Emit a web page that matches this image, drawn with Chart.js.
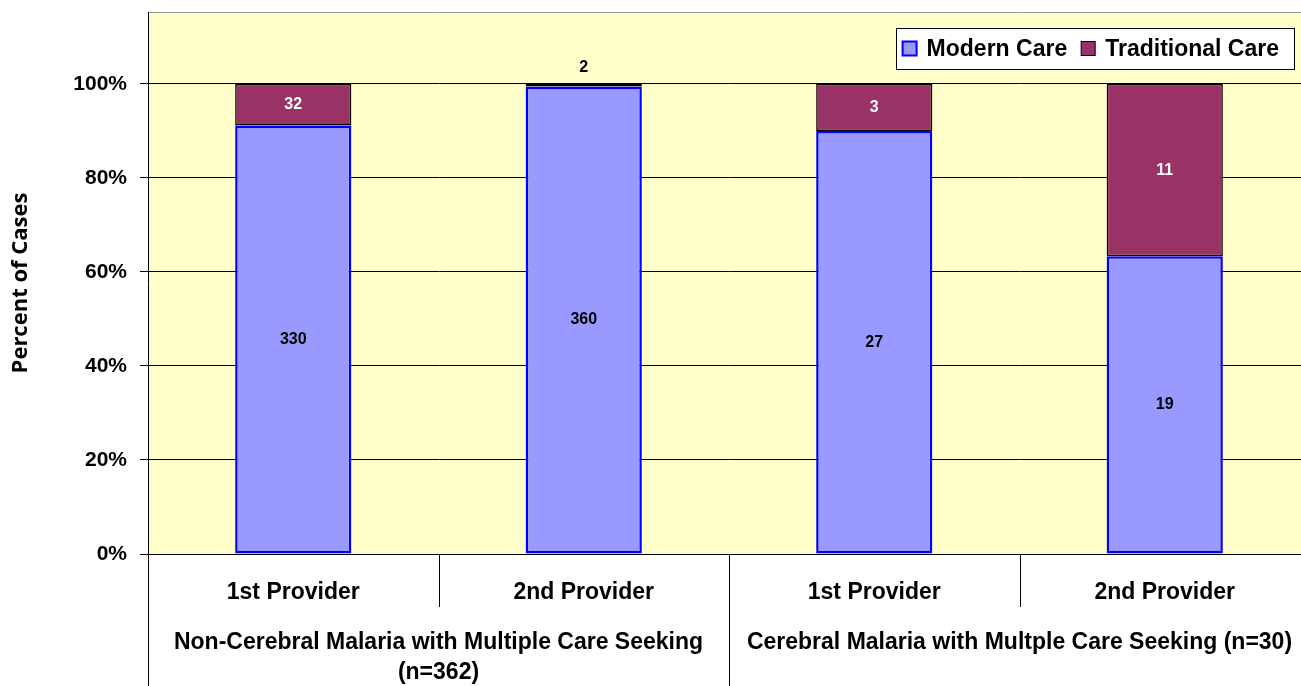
<!DOCTYPE html>
<html>
<head>
<meta charset="utf-8">
<script src="https://cdn.jsdelivr.net/npm/chart.js@4.4.1/dist/chart.umd.min.js"></script>
<style>
  html, body { margin: 0; padding: 0; background: #fff; overflow: hidden; }
  #chart { display: block; }
</style>
</head>
<body>
<!-- the original picture is cut off on the right, so the canvas runs a little past the window -->
<canvas id="chart" width="1310" height="686"></canvas>
<script>
// chart data
const categories = ['1st Provider', '2nd Provider', '1st Provider', '2nd Provider'];
const groupLabels = [
    ['Non-Cerebral Malaria with Multiple Care Seeking', '(n=362)'],
    ['Cerebral Malaria with Multple Care Seeking (n=30)']
];
const groupSizes = [2, 2];
const seriesNames = ['Modern Care', 'Traditional Care'];
const modernCounts = [330, 360, 27, 19];
const traditionalCounts = [32, 2, 3, 11];
const yTicks = [0, 20, 40, 60, 80, 100];

// 100% stacked: share of each provider's cases
const totals = modernCounts.map((m, i) => m + traditionalCounts[i]);
const modernPct = modernCounts.map((m, i) => m / totals[i] * 100);
const traditionalPct = traditionalCounts.map((t, i) => t / totals[i] * 100);
const counts = [modernCounts, traditionalCounts];

const FONT = 'Liberation Sans, Arial, sans-serif';
const labelColors = ['#000000', '#FFFFFF'];

const plotBackground = {
    id: 'plotBackground',
    beforeDraw(chart) {
        const {ctx, chartArea: a} = chart;
        ctx.save();
        ctx.fillStyle = '#FFFFCC';
        ctx.fillRect(a.left, a.top, a.right - a.left, a.bottom - a.top);
        ctx.strokeStyle = '#999999';
        ctx.lineWidth = 1;
        ctx.beginPath();
        ctx.moveTo(a.left, a.top + 0.5);
        ctx.lineTo(a.right, a.top + 0.5);
        ctx.stroke();
        ctx.restore();
    }
};

const segmentLabels = {
    id: 'segmentLabels',
    afterDatasetsDraw(chart) {
        const {ctx} = chart;
        ctx.save();
        ctx.font = 'bold 16px ' + FONT;
        ctx.textAlign = 'center';
        ctx.textBaseline = 'middle';
        chart.data.datasets.forEach((ds, di) => {
            const meta = chart.getDatasetMeta(di);
            meta.data.forEach((bar, i) => {
                const h = Math.abs(bar.base - bar.y);
                let y = (bar.y + bar.base) / 2;
                ctx.fillStyle = labelColors[di];
                if (h < 16) {
                    // too thin for the label: put it above the bar
                    y = Math.min(bar.y, bar.base) - 16;
                    ctx.fillStyle = '#000000';
                }
                ctx.fillText(String(counts[di][i]), bar.x, y);
            });
        });
        ctx.restore();
    }
};

const groupAxis = {
    id: 'groupAxis',
    afterDraw(chart) {
        const {ctx, chartArea: a} = chart;
        const xs = chart.scales.x;
        const n = categories.length;
        const edge = (i) => {
            if (i === 0) {return a.left;}
            if (i === n) {return a.right;}
            return (xs.getPixelForValue(i - 1) + xs.getPixelForValue(i)) / 2;
        };
        const groupStarts = [0];
        groupSizes.forEach(s => groupStarts.push(groupStarts[groupStarts.length - 1] + s));

        ctx.save();
        ctx.strokeStyle = '#000000';
        ctx.lineWidth = 1;
        for (let i = 0; i <= n; i++) {
            const x = Math.round(edge(i)) + 0.5;
            const isGroupEdge = groupStarts.includes(i);
            ctx.beginPath();
            ctx.moveTo(x, a.bottom);
            ctx.lineTo(x, isGroupEdge ? chart.height : a.bottom + 53);
            ctx.stroke();
        }

        ctx.fillStyle = '#000000';
        ctx.font = 'bold 23px ' + FONT;
        ctx.textAlign = 'center';
        ctx.textBaseline = 'middle';
        groupLabels.forEach((lines, g) => {
            const cx = (edge(groupStarts[g]) + edge(groupStarts[g + 1])) / 2;
            lines.forEach((line, k) => {
                ctx.fillText(line, cx, a.bottom + 89 + k * 30);
            });
        });
        ctx.restore();
    }
};

const boxedLegend = {
    id: 'boxedLegend',
    afterDraw(chart) {
        const {ctx, chartArea: a} = chart;
        ctx.save();
        ctx.font = 'bold 23px ' + FONT;
        ctx.textBaseline = 'middle';
        const sq = 14, gapSq = 10, gapItem = 14, padL = 7, padR = 15;
        const widths = chart.data.datasets.map(ds => ctx.measureText(ds.label).width);
        let w = padL + padR;
        widths.forEach((tw, i) => { w += sq + gapSq + tw + (i > 0 ? gapItem : 0); });
        const h = 41;
        const right = a.right - 16;
        const left = right - w;
        const top = a.top + 16;
        ctx.fillStyle = '#FFFFFF';
        ctx.fillRect(left, top, w, h);
        ctx.strokeStyle = '#000000';
        ctx.lineWidth = 1;
        ctx.strokeRect(Math.round(left) + 0.5, top + 0.5, Math.round(w), h);
        let x = left + padL;
        const cy = top + h / 2;
        chart.data.datasets.forEach((ds, i) => {
            ctx.fillStyle = ds.backgroundColor;
            ctx.fillRect(x, cy - sq / 2, sq, sq);
            ctx.strokeStyle = ds.borderColor;
            ctx.lineWidth = i === 0 ? 2 : 1;
            ctx.strokeRect(x, cy - sq / 2, sq, sq);
            x += sq + gapSq;
            ctx.fillStyle = '#000000';
            ctx.fillText(ds.label, x, cy + 1);
            x += widths[i] + gapItem;
        });
        ctx.restore();
    }
};

new Chart(document.getElementById('chart'), {
    type: 'bar',
    data: {
        labels: categories,
        datasets: [{
            label: seriesNames[0],
            data: modernPct,
            backgroundColor: '#9999FF',
            borderColor: '#0000FF',
            borderWidth: 2.5,
            borderSkipped: false,
            barPercentage: 0.4,
            categoryPercentage: 1
        }, {
            label: seriesNames[1],
            data: traditionalPct,
            backgroundColor: '#993366',
            borderColor: '#000000',
            borderWidth: 1.5,
            borderSkipped: false,
            barPercentage: 0.4,
            categoryPercentage: 1
        }]
    },
    options: {
        responsive: false,
        animation: false,
        devicePixelRatio: 1,
        layout: { padding: { top: 12, left: 0, right: 0, bottom: 0 } },
        plugins: {
            legend: { display: false },
            tooltip: { enabled: false }
        },
        scales: {
            x: {
                stacked: true,
                afterFit: (s) => { s.height = 132; s.paddingLeft = 0; s.paddingRight = 0; },
                grid: { display: false },
                border: { display: true, color: '#000000', width: 1 },
                ticks: {
                    color: '#000000',
                    padding: 17,
                    maxRotation: 0,
                    autoSkip: false,
                    font: { family: FONT, size: 23, weight: 'bold' }
                }
            },
            y: {
                stacked: true,
                min: 0,
                max: 115.3,
                afterBuildTicks: (s) => { s.ticks = yTicks.map(v => ({ value: v })); },
                afterFit: (s) => { s.width = 148; s.paddingTop = 0; s.paddingBottom = 0; },
                border: { display: true, color: '#000000', width: 1 },
                grid: { color: '#000000', lineWidth: 1, drawTicks: true, tickLength: 8 },
                ticks: {
                    color: '#000000',
                    padding: 13,
                    callback: (v) => v + '%',
                    font: { family: FONT, size: 21, weight: 'bold' }
                },
                title: {
                    display: true,
                    text: 'Percent of Cases',
                    color: '#000000',
                    padding: { top: 8, bottom: 0 },
                    font: { family: 'Open Sans, DejaVu Sans, sans-serif', size: 22, weight: 'bold' }
                }
            }
        }
    },
    plugins: [plotBackground, segmentLabels, groupAxis, boxedLegend]
});
</script>
</body>
</html>
